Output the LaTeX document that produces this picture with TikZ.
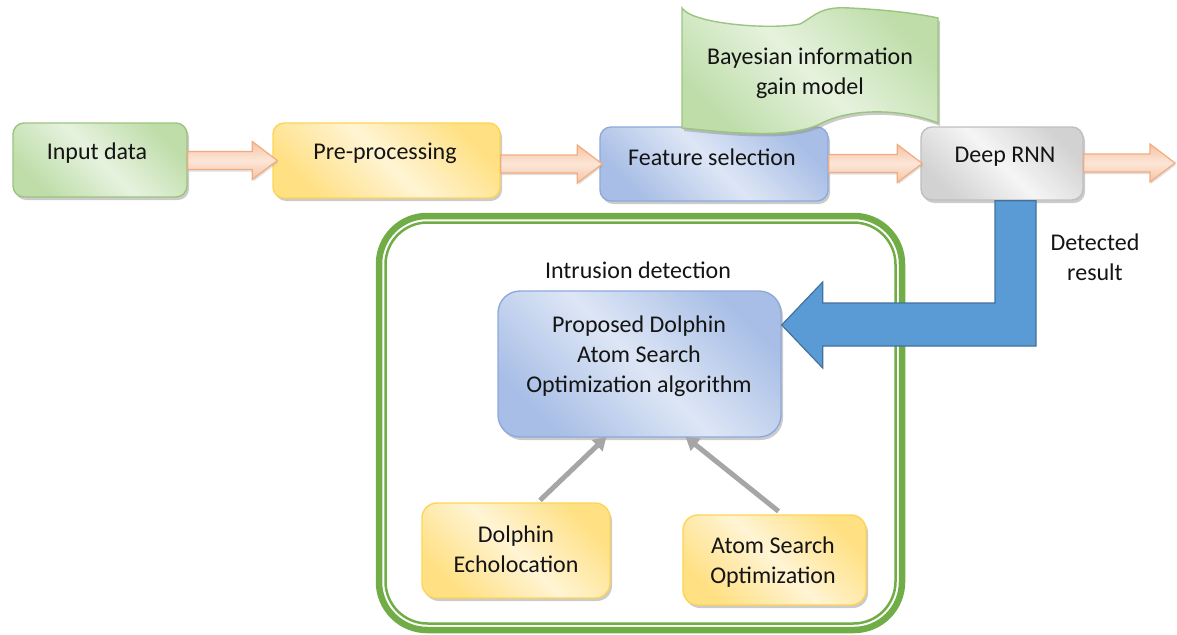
\documentclass[tikz,border=0pt]{standalone}
\usepackage{fontspec}
\setmainfont{Carlito}
\usetikzlibrary{calc,shadows,arrows.meta}
\definecolor{txt}{HTML}{141414}
\definecolor{grnE}{HTML}{9BC47F}
\definecolor{grnD}{HTML}{BEDDA9}
\definecolor{grnL}{HTML}{E6F2DE}
\definecolor{yelE}{HTML}{FFD453}
\definecolor{yelD}{HTML}{FFE083}
\definecolor{yelL}{HTML}{FFF4D4}
\definecolor{bluE}{HTML}{8EA9DB}
\definecolor{bluD}{HTML}{A8BEE6}
\definecolor{bluL}{HTML}{DDE6F5}
\definecolor{gryE}{HTML}{BFBFBF}
\definecolor{gryD}{HTML}{D2D2D2}
\definecolor{gryL}{HTML}{F5F5F5}
\definecolor{pchE}{HTML}{F0AC80}
\definecolor{pchD}{HTML}{F6C3A2}
\definecolor{pchL}{HTML}{FCE6D8}
\definecolor{bigB}{HTML}{5B9BD5}
\definecolor{bigE}{HTML}{41719C}
\definecolor{frm}{HTML}{70AD47}
\definecolor{garr}{HTML}{A6A6A6}
\tikzset{
  box/.style={rounded corners=11pt, draw, line width=1.4pt, inner sep=0pt,
    drop shadow={shadow xshift=2pt, shadow yshift=-3pt, opacity=0.45, fill=black!45}},
  greenbox/.style={box, draw=grnE, left color=grnD, right color=grnD, middle color=grnL, shading angle=135},
  yellowbox/.style={box, draw=yelE, left color=yelD, right color=yelD, middle color=yelL, shading angle=135},
  bluebox/.style={box, draw=bluE, left color=bluD, right color=bluD, middle color=bluL, shading angle=135},
  greybox/.style={box, draw=gryE, left color=gryD, right color=gryD, middle color=gryL, shading angle=135},
  lbl/.style={font=\fontsize{24}{30}\selectfont, align=center, text=txt, inner sep=0pt},
  peach/.style={draw=pchE, line width=1.2pt, top color=pchD, bottom color=pchD, middle color=pchL,
    drop shadow={shadow xshift=1pt, shadow yshift=-2pt, opacity=0.3, fill=black!40}},
  bigarrow/.style={draw=bigE, line width=1.2pt, fill=bigB},
  grayarrow/.style={draw=garr, line width=5pt, -{Triangle[length=13pt,width=15pt]}},
}
\newcommand{\peacharrow}[2]{%
  \path[peach] let \p1=(#1), \p2=(#2) in
    (\x1,\y2+9pt) -- (\x2-25pt,\y2+9pt) -- (\x2-25pt,\y2+19pt) -- (\x2,\y2)
    -- (\x2-25pt,\y2-19pt) -- (\x2-25pt,\y2-9pt) -- (\x1,\y2-9pt) -- cycle;}
\begin{document}
\begin{tikzpicture}[x=1pt,y=-1pt]
\useasboundingbox (0,0) rectangle (1177,634);
% frame
\draw[frm, line width=6.5pt, rounded corners=48pt] (379,216) rectangle (902,630);
\draw[frm, line width=2.5pt, rounded corners=42pt] (385.5,222.5) rectangle (895.5,623.5);
\node[lbl] (intr) at (638,270) {Intrusion detection};

% top row boxes
\node[greenbox, minimum width=174pt, minimum height=74pt] (inp) at (100,160) {};
\node[lbl] (inpt) at (97,153) {Input data};
\node[yellowbox, minimum width=227pt, minimum height=75pt] (pre) at (386.5,160.5) {};
\node[lbl] (pret) at (385,153) {Pre-processing};
\node[bluebox, minimum width=228pt, minimum height=74pt] (feat) at (714,164) {};
\node[lbl] (featt) at (712,157) {Feature selection};
\node[greybox, minimum width=162pt, minimum height=73pt] (rnn) at (1002,163.5) {};
\node[lbl] (rnnt) at (1005,157) {Deep RNN};

% Bayesian wave
\path[draw=grnE, line width=1.4pt, left color=grnD, right color=grnD, middle color=grnL, shading angle=135,
  drop shadow={shadow xshift=2pt, shadow yshift=-3pt, opacity=0.45, fill=black!45}]
  (682,8) .. controls (692,24) and (770,30) .. (800,24)
  .. controls (815,16) and (820,6) .. (850,8)
  .. controls (890,10) and (920,14) .. (938,18)
  -- (938,123)
  .. controls (900,108) and (850,108) .. (820,124)
  .. controls (790,138) and (740,134) .. (682,128) -- cycle;
\node[lbl] (bay) at (810,73) {Bayesian information\\gain model};

% peach arrows
\coordinate (a1) at ($(pre.west)+(5,0)$);
\peacharrow{inp.east}{a1}
\coordinate (a2) at ($(feat.west)+(3,0)$);
\peacharrow{pre.east}{a2}
\coordinate (a3) at ($(rnn.west)+(2,0)$);
\peacharrow{feat.east}{a3}
\coordinate (a4) at (1175,163);
\peacharrow{rnn.east}{a4}

\node[lbl] (det) at (1095,257) {Detected\\result};

% proposed
\node[bluebox, rounded corners=22pt, minimum width=283pt, minimum height=146pt] (prop) at (639.5,364) {};
\node[lbl] (propt) at (639,356) {Proposed Dolphin\\Atom Search\\Optimization algorithm};

% big blue arrow
\coordinate (bt) at ($(prop.east)+(0,-39)$);
\path[bigarrow] let \p1=(rnn.south), \p2=(bt) in
  (\x1-7pt,\y1) -- (\x1+34pt,\y1) -- (\x1+34pt,\y2-21pt) -- (\x2+41pt,\y2-21pt)
  -- (\x2+41pt,\y2-43pt) -- (\x2,\y2) -- (\x2+41pt,\y2+43pt) -- (\x2+41pt,\y2+22pt)
  -- (\x1-7pt,\y2+22pt) -- cycle;

% bottom boxes
\node[yellowbox, rounded corners=15pt, minimum width=188pt, minimum height=95pt] (dol) at (516,550.5) {};
\node[lbl] (dolt) at (516,549) {Dolphin\\Echolocation};
\node[yellowbox, rounded corners=15pt, minimum width=183pt, minimum height=90pt] (atom) at (774.5,560) {};
\node[lbl] (atomt) at (773,562) {Atom Search\\Optimization};

\draw[grayarrow] ($(dol.north)+(24,-2)$) -- ($(prop.south)+(-33,-1)$);
\draw[grayarrow] ($(atom.north)+(4,-3)$) -- ($(prop.south)+(46,-1)$);
\end{tikzpicture}
\end{document}
